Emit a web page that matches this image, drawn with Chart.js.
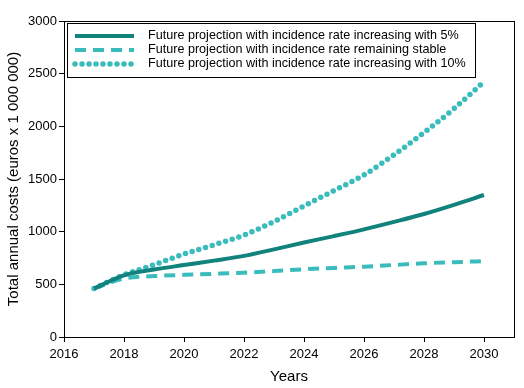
<!DOCTYPE html>
<html>
<head>
<meta charset="utf-8">
<script src="https://cdn.jsdelivr.net/npm/chart.js@4.4.0/dist/chart.umd.min.js"></script>
<style>
    html, body { margin: 0; padding: 0; background: #fff; }
    #wrap { width: 524px; height: 388px; position: relative; }
</style>
</head>
<body>
<div id="wrap"><canvas id="costChart"></canvas></div>
<script>
// Projected annual costs
const years = [2017, 2018, 2019, 2020, 2021, 2022, 2023, 2024, 2025, 2026, 2027, 2028, 2029, 2030];
const increase5 = [460, 585, 640, 683, 725, 770, 832, 897, 958, 1022, 1093, 1168, 1255, 1348];
const stable = [460, 555, 578, 590, 600, 611, 626, 643, 656, 668, 684, 700, 710, 721];
const increase10 = [460, 590, 685, 788, 875, 968, 1095, 1245, 1390, 1538, 1730, 1940, 2168, 2424];
const xTicks = [2016, 2018, 2020, 2022, 2024, 2026, 2028, 2030];
const yTicks = [0, 500, 1000, 1500, 2000, 2500, 3000];
const seriesLabels = [
    'Future projection with incidence rate increasing with 5%',
    'Future projection with incidence rate remaining stable',
    'Future projection with incidence rate increasing with 10%'
];

const darkTeal = '#12827d';
const lightTeal = '#3bbcbc';
const font = "'Liberation Sans', Arial, sans-serif";

const toPoints = values => values.map((v, i) => ({ x: years[i], y: v }));

// box around plot + legend drawn inside the plot area
const framePlugin = {
    id: 'frame',
    afterDraw(chart) {
        const { ctx, chartArea: a } = chart;
        ctx.save();
        ctx.strokeStyle = '#000';
        ctx.lineWidth = 1;
        ctx.strokeRect(a.left + 0.5, a.top + 0.5, a.right - a.left, a.bottom - a.top);

        // legend box
        const bx = 67.5, by = 23.5, bw = 408, bh = 54;
        ctx.fillStyle = '#fff';
        ctx.fillRect(bx, by, bw, bh);
        ctx.strokeRect(bx, by, bw, bh);

        const rows = [36, 50, 64];
        chart.data.datasets.forEach((ds, i) => {
            ctx.beginPath();
            ctx.strokeStyle = ds.borderColor;
            ctx.lineWidth = ds.borderWidth;
            ctx.lineCap = ds.borderCapStyle || 'butt';
            ctx.setLineDash(ds.borderDash || []);
            ctx.moveTo(75, rows[i]);
            ctx.lineTo(134, rows[i]);
            ctx.stroke();
            ctx.setLineDash([]);
            ctx.fillStyle = '#000';
            ctx.font = '12.6px ' + font;
            ctx.textBaseline = 'middle';
            ctx.fillText(ds.label, 148, rows[i]);
        });
        ctx.restore();
    }
};

new Chart(document.getElementById('costChart'), {
    type: 'line',
    data: {
        datasets: [
            {
                label: seriesLabels[0],
                data: toPoints(increase5),
                borderColor: darkTeal,
                borderWidth: 4,
                cubicInterpolationMode: 'monotone',
                pointRadius: 0
            },
            {
                label: seriesLabels[1],
                data: toPoints(stable),
                borderColor: lightTeal,
                borderWidth: 4,
                borderDash: [11, 7],
                cubicInterpolationMode: 'monotone',
                pointRadius: 0
            },
            {
                label: seriesLabels[2],
                data: toPoints(increase10),
                borderColor: lightTeal,
                borderWidth: 5.5,
                borderDash: [0, 7],
                borderCapStyle: 'round',
                cubicInterpolationMode: 'monotone',
                pointRadius: 0
            }
        ]
    },
    options: {
        responsive: true,
        maintainAspectRatio: false,
        animation: false,
        layout: { padding: { top: 21, right: 10, left: 0, bottom: 0 } },
        plugins: {
            legend: { display: false },
            tooltip: { enabled: false }
        },
        scales: {
            x: {
                type: 'linear',
                min: 2016,
                max: 2031,
                afterBuildTicks: scale => { scale.ticks = xTicks.map(v => ({ value: v })); },
                afterFit: scale => { scale.height = 51; },
                ticks: {
                    color: '#000',
                    font: { family: font, size: 13 },
                    padding: 5,
                    maxRotation: 0,
                    callback: v => String(v)
                },
                grid: {
                    drawOnChartArea: false,
                    tickLength: 5,
                    color: '#000'
                },
                border: { color: '#000', width: 1 },
                title: {
                    display: true,
                    text: 'Years',
                    color: '#000',
                    font: { family: font, size: 15 },
                    padding: { top: 4, bottom: 2 }
                }
            },
            y: {
                min: 0,
                max: 3000,
                afterBuildTicks: scale => { scale.ticks = yTicks.map(v => ({ value: v })); },
                afterFit: scale => { scale.width = 64; },
                ticks: {
                    color: '#000',
                    font: { family: font, size: 13 },
                    padding: 2,
                    callback: v => String(v)
                },
                grid: {
                    drawOnChartArea: false,
                    tickLength: 5,
                    color: '#000'
                },
                border: { color: '#000', width: 1 },
                title: {
                    display: true,
                    text: 'Total annual costs (euros x 1 000 000)',
                    color: '#000',
                    font: { family: font, size: 15 },
                    padding: { top: 5, bottom: 2 }
                }
            }
        }
    },
    plugins: [framePlugin]
});
</script>
</body>
</html>
